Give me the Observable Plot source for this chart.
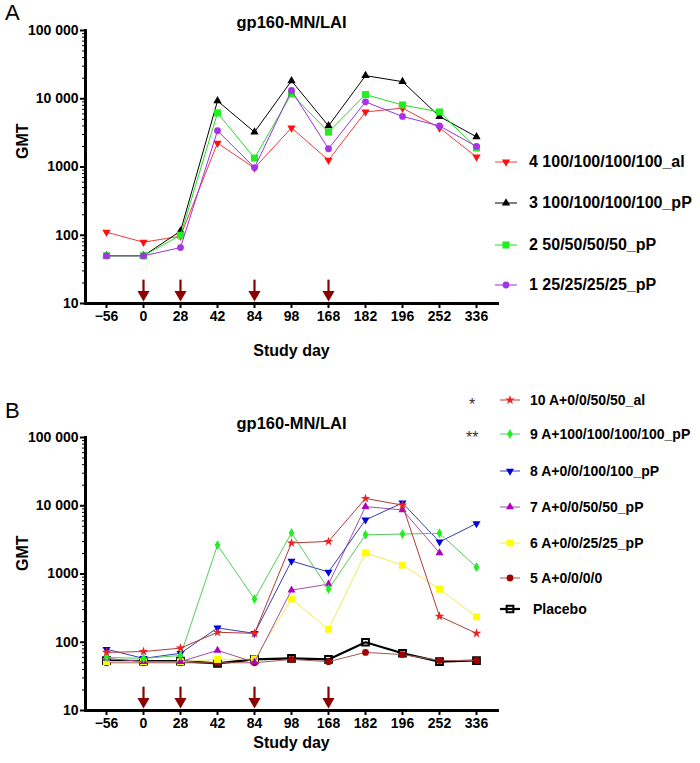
<!DOCTYPE html>
<html>
<head>
<meta charset="utf-8">
<script src="https://cdn.jsdelivr.net/npm/d3@7"></script>
<script src="https://cdn.jsdelivr.net/npm/@observablehq/plot@0.6"></script>
<style>
  html, body { margin: 0; padding: 0; background: #fff; }
  #root { position: relative; width: 700px; height: 763px; font-family: "Liberation Sans", Arial, sans-serif; color: #000; }
  .panel-label { font-size: 22px; font-weight: normal; }
  .leg { position: absolute; display: flex; align-items: center; font-weight: bold; white-space: nowrap; transform: translateY(-50%); }
</style>
</head>
<body>
<div id="root"></div>
<script>
// ---------------- DATA ----------------
const days = ["−56", "0", "28", "42", "84", "98", "168", "182", "196", "252", "336"];
const arrowDays = ["0", "28", "84", "168"];
const yTicks = [10, 100, 1000, 10000, 100000];
const yTickLabels = ["10", "100", "1000", "10 000", "100 000"];
const chartTitle = "gp160-MN/LAI";
const xLabel = "Study day";
const yLabel = "GMT";

// Panel A
const namesA = ["4 100/100/100/100_al", "3 100/100/100/100_pP", "2 50/50/50/50_pP", "1 25/25/25/25_pP"];
const a4 = [111, 79, 97, 2240, 966, 3750, 1260, 6400, 7300, 3750, 1400];
const a3 = [50, 50, 115, 9300, 3250, 18300, 4000, 21800, 17800, 5500, 2760];
const a2 = [50, 50, 100, 6200, 1350, 11800, 3250, 11500, 8100, 6400, 1900];
const a1 = [50, 50, 66, 3400, 980, 13200, 1850, 9000, 5500, 4000, 2000];

// Panel B
const namesB = ["10 A+0/0/50/50_al", "9 A+100/100/100/100_pP", "8 A+0/0/100/100_pP", "7 A+0/0/50/50_pP", "6 A+0/0/25/25_pP", "5 A+0/0/0/0", "Placebo"];
const significance = ["*", "**"];
const b10 = [71, 73, 82, 140, 135, 2850, 3000, 12800, 10200, 240, 135];
const b9 = [60, 58, 64, 2650, 430, 4000, 600, 3750, 3850, 3950, 1260];
const b8 = [79, 58, 69, 162, 135, 1550, 1070, 6200, 11000, 2950, 5500];
const b7 = [58, 52, 52, 76, 51, 580, 710, 9700, 8700, 2040, null];
const b6 = [52, 52, 52, 56, 57, 430, 155, 2040, 1350, 600, 235];
const b5 = [50, 50, 50, 50, 50, 56, 52, 71, 66, 54, 54];
const bP = [54, 53, 53, 49, 56, 58, 56, 100, 69, 52, 54];

// ---------------- STYLES ----------------
const stylesA = [
  {vals: a4, line: "#f23a3a", fill: "#ff1010", symbol: "triangle", rotate: 180, r: 3.1},
  {vals: a3, line: "#000000", fill: "#000000", symbol: "triangle", rotate: 0, r: 3.1},
  {vals: a2, line: "#22dd22", fill: "#22ee22", symbol: "square", rotate: 0, r: 4.0},
  {vals: a1, line: "#a030e0", fill: "#a633e8", symbol: "circle", rotate: 0, r: 3.4}
];
const stylesB = [
  {vals: bP, line: "#000000", fill: "none", stroke: "#000", sw: 2, symbol: "square", rotate: 0, r: 3.8, lw: 2.2},
  {vals: b5, line: "#a05a5a", fill: "#a00000", symbol: "circle", rotate: 0, r: 3.4},
  {vals: b6, line: "#eeee55", fill: "#ffff00", symbol: "square", rotate: 0, r: 3.9},
  {vals: b7, line: "#a050a8", fill: "#b000c0", symbol: "triangle", rotate: 0, r: 3.0},
  {vals: b8, line: "#3040b0", fill: "#0000dd", symbol: "triangle", rotate: 180, r: 3.0},
  {vals: b9, line: "#55cc55", fill: "#22ee22", symbol: "diamond", rotate: 0, r: 3.0},
  {vals: b10, line: "#b03a3a", fill: "#ee2020", symbol: "star", rotate: 0, r: 3.0}
];
const legendStylesB = [stylesB[6], stylesB[5], stylesB[4], stylesB[3], stylesB[2], stylesB[1], stylesB[0]];

const fontFamily = '"Liberation Sans", Arial, sans-serif';
const arrowColor = "#8b0000";
const minorTicks = [];
for (const base of [10, 100, 1000, 10000]) for (let k = 2; k <= 9; k++) minorTicks.push(base * k);

function seriesMarks(s) {
  const data = days.map((d, i) => ({day: d, v: s.vals[i]})).filter(d => d.v != null);
  return [
    Plot.line(data, {x: "day", y: "v", stroke: s.line, strokeWidth: s.lw || 1}),
    Plot.dot(data, {x: "day", y: "v", symbol: s.symbol, rotate: s.rotate, r: s.r,
      fill: s.fill, stroke: s.stroke || "none", strokeWidth: s.sw || 0})
  ];
}

function makePanel(styles, opts) {
  const arrows = arrowDays.map(d => ({day: d}));
  return Plot.plot({
    width: 700,
    height: 380,
    marginLeft: 85,
    marginRight: 203,
    marginTop: opts.marginTop,
    marginBottom: opts.marginBottom,
    style: {fontFamily, fontSize: "14px", fontWeight: "bold", background: "transparent", overflow: "visible", color: "#000"},
    x: {type: "point", domain: days, padding: 0.54, label: null},
    y: {type: "log", domain: [10, 100000], label: null},
    marks: [
      Plot.axisY({ticks: minorTicks, tickSize: 3, text: null, strokeWidth: 1, label: null}),
      Plot.axisY({ticks: yTicks, tickSize: 5, tickPadding: 2, strokeWidth: 2, label: null,
        tickFormat: d => yTickLabels[yTicks.indexOf(d)], fontSize: 14, fontWeight: "bold"}),
      Plot.axisX({tickSize: 5, tickPadding: 3, strokeWidth: 2, label: null, fontSize: 14, fontWeight: "bold"}),
      Plot.frame({anchor: "left", strokeWidth: 3, stroke: "#000"}),
      Plot.frame({anchor: "bottom", strokeWidth: 3, stroke: "#000"}),
      Plot.ruleX(arrows, {x: "day", y1: 22, y2: 14.5, stroke: arrowColor, strokeWidth: 2.2}),
      Plot.dot(arrows, {x: "day", y: 13.6, symbol: "triangle", rotate: 180, r: 4.5, fill: arrowColor}),
      ...styles.flatMap(seriesMarks),
      Plot.text([chartTitle], {frameAnchor: "top", dy: opts.titleDy, fontSize: 16.5, fontWeight: "bold"}),
      Plot.text([xLabel], {frameAnchor: "bottom", dy: opts.xLabelDy, fontSize: 16, fontWeight: "bold"}),
      Plot.text([yLabel], {frameAnchor: "left", dx: -63, dy: opts.yLabelDy, rotate: -90, fontSize: 16, fontWeight: "bold"})
    ]
  });
}

const root = document.getElementById("root");

function place(el, top, left) {
  el.style.position = "absolute";
  el.style.top = top + "px";
  el.style.left = left + "px";
  root.appendChild(el);
}

const svgA = makePanel(stylesA, {marginTop: 30, marginBottom: 77, titleDy: -14, xLabelDy: 52, yLabelDy: -8});
place(svgA, 0, 0);
const svgB = makePanel(stylesB, {marginTop: 37, marginBottom: 70, titleDy: -20, xLabelDy: 37, yLabelDy: -3});
place(svgB, 400, 0);

// panel letters
for (const [t, top] of [["A", 0], ["B", 398]]) {
  const d = document.createElement("div");
  d.className = "panel-label";
  d.textContent = t;
  place(d, top, 5);
}

// legend helper
function legendItem(name, s, cx, cy, textLeft, fontSize, lineHalf) {
  const w = 2 * lineHalf + 4, h = 16;
  const svg = d3.create("svg").attr("width", w).attr("height", h)
    .style("position", "absolute").style("left", (cx - w / 2) + "px").style("top", (cy - h / 2) + "px")
    .style("overflow", "visible");
  svg.append("line").attr("x1", w / 2 - lineHalf).attr("x2", w / 2 + lineHalf).attr("y1", h / 2).attr("y2", h / 2)
    .attr("stroke", s.line).attr("stroke-width", s.lw || 1);
  const symMap = {triangle: d3.symbolTriangle, square: d3.symbolSquare, circle: d3.symbolCircle, diamond: d3.symbolDiamond, star: d3.symbolStar};
  svg.append("path").attr("d", d3.symbol(symMap[s.symbol], Math.PI * s.r * s.r)())
    .attr("transform", `translate(${w / 2},${h / 2}) rotate(${s.rotate || 0})`)
    .attr("fill", s.fill).attr("stroke", s.stroke || "none").attr("stroke-width", s.sw || 0);
  root.appendChild(svg.node());
  const t = document.createElement("div");
  t.className = "leg";
  t.style.fontSize = fontSize + "px";
  t.textContent = name;
  place(t, cy, textLeft);
}

const rowsA = [162, 203, 245, 285];
namesA.forEach((n, i) => legendItem(n, stylesA[i], 506, rowsA[i], 529, 16, 11));

const rowsB = [400, 434, 471, 507, 543, 578, 609];
namesB.forEach((n, i) => legendItem(n, legendStylesB[i], 510, rowsB[i], i === 6 ? 533 : 530, 14, 10));

// significance marks
[[significance[0], 405, 469], [significance[1], 438, 466]].forEach(([t, top, left]) => {
  const d = document.createElement("div");
  d.textContent = t;
  d.style.fontSize = "16px";
  d.style.color = "#333";
  d.style.transform = "translateY(-50%)";
  place(d, top, left);
});
</script>
</body>
</html>
